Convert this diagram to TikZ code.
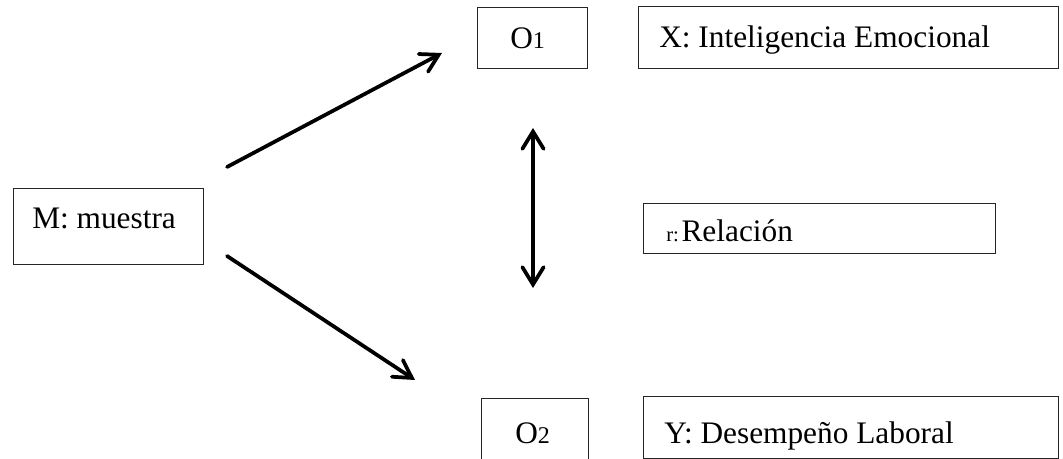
\documentclass[tikz,border=0pt]{standalone}
\usepackage{fontspec}
\setmainfont{Liberation Serif}
\usetikzlibrary{arrows.meta}
\begin{document}
\begin{tikzpicture}[x=0.75pt,y=-0.75pt,
  box/.style={draw=black!85, line width=1pt, inner sep=0pt, anchor=north west},
  lbl/.style={inner sep=0pt, anchor=base west, font=\fontsize{23.5}{28}\selectfont},
  conn/.style={line width=2.8pt, line cap=round, -{Straight Barb[length=13pt,width=15pt,line cap=round]}},
  dconn/.style={line width=2.8pt, {Straight Barb[length=13pt,width=16pt,line cap=round]}-{Straight Barb[length=13pt,width=16pt,line cap=round]}},
]
\useasboundingbox (0,0) rectangle (1063,459);
\clip (0,0) rectangle (1063,459);
% boxes
\node[box, minimum width=142.5pt, minimum height=57pt] (M) at (13,188) {};
\node[box, minimum width=82.5pt, minimum height=45.75pt] (O1) at (477,7) {};
\node[box, minimum width=315pt, minimum height=46.5pt] (X) at (638,6) {};
\node[box, minimum width=264pt, minimum height=37.5pt] (R) at (643,203) {};
\node[box, minimum width=80.25pt, minimum height=62pt] (O2) at (481,398) {};
\node[box, minimum width=311pt, minimum height=46.5pt] (Y) at (643,396) {};
% texts
\node[lbl] (tM) at (32,229) {M: muestra};
\node[lbl] (tO1) at (510,49) {O{\fontsize{18}{20}\selectfont 1}};
\node[lbl] (tX) at (659,48) {X: Inteligencia Emocional};
\node[lbl] (tR) at (666,242) {{\fontsize{15.5}{18}\selectfont r:}\hspace{2pt}Relación};
\node[lbl] (tO2) at (515,443) {O{\fontsize{18}{20}\selectfont 2}};
\node[lbl] (tY) at (664,443) {Y: Desempeño Laboral};
% connector ends
\coordinate (a1s) at (227,167);
\coordinate (a1e) at (442,53);
\coordinate (a2s) at (227,256);
\coordinate (a2e) at (415,380);
\coordinate (dt) at (533,128);
\coordinate (db) at (533,288);
\draw[conn] (a1s) -- (a1e);
\draw[conn] (a2s) -- (a2e);
\draw[dconn] (dt) -- (db);
\end{tikzpicture}
\end{document}
